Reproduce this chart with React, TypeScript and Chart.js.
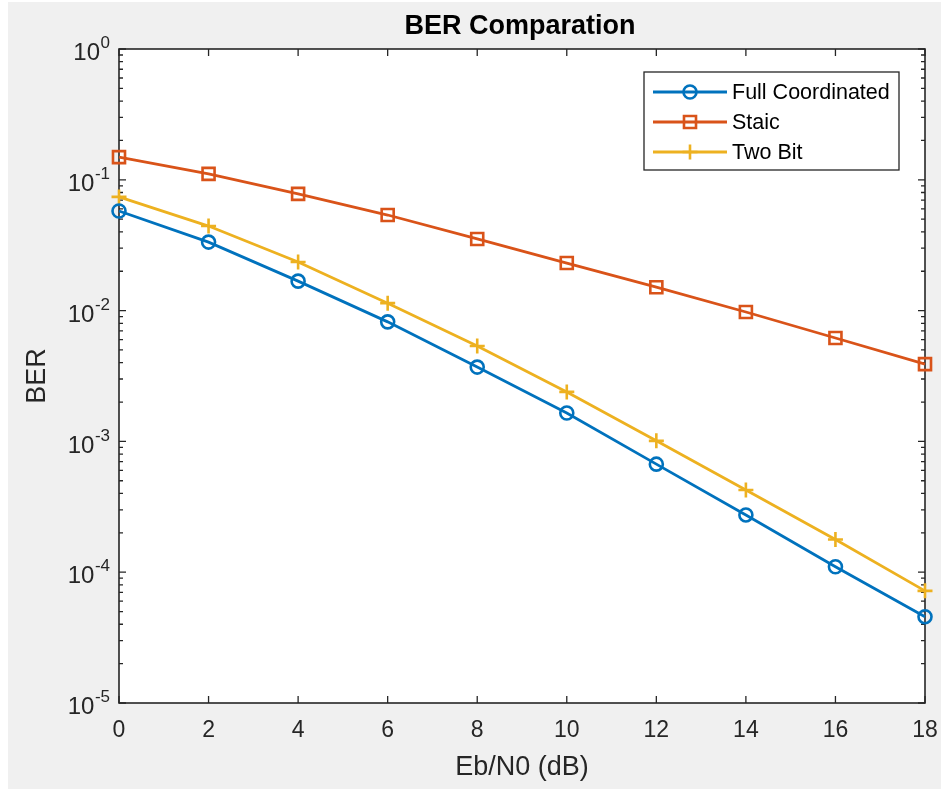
import React, { useEffect, useRef } from 'react';
import { Chart, registerables } from 'chart.js';
import { drawPoint } from 'chart.js/helpers';

Chart.register(...registerables);

// ---- data ----
const ebN0 = [0, 2, 4, 6, 8, 10, 12, 14, 16, 18];
const fullCoordinated = [0.0577, 0.0334, 0.0168, 0.0082, 0.0037, 0.00165, 0.00067, 0.000274, 0.00011, 0.0000457];
const staic = [0.149, 0.111, 0.078, 0.0538, 0.0353, 0.0231, 0.0151, 0.00976, 0.00617, 0.0039];
const twoBit = [0.074, 0.0443, 0.0235, 0.0114, 0.00536, 0.00239, 0.00101, 0.000425, 0.000178, 0.000072];
const seriesNames = ['Full Coordinated', 'Staic', 'Two Bit'];
const xTicks = [0, 2, 4, 6, 8, 10, 12, 14, 16, 18];
const yExponents = [0, -1, -2, -3, -4, -5];
const titleText = 'BER Comparation';
const xLabel = 'Eb/N0 (dB)';
const yLabel = 'BER';

const FAMILY = '"Liberation Sans", Arial, Helvetica, sans-serif';
const font = (size: number, bold = false) => `${bold ? 'bold ' : ''}${size}px ${FAMILY}`;
const AXIS = '#262626';

const matlabPlugin = {
  id: 'matlabLook',
  beforeDraw(chart: any) {
    const { ctx, chartArea: a, width, height } = chart;
    ctx.save();
    ctx.fillStyle = '#f0f0f0';
    ctx.fillRect(0, 0, width, height);
    ctx.fillStyle = '#ffffff';
    ctx.fillRect(a.left, a.top, a.right - a.left, a.bottom - a.top);
    ctx.restore();
  },
  beforeDatasetsDraw(chart: any) {
    const { ctx, chartArea: a, scales } = chart;
    const xs = scales.x;
    const ys = scales.y;
    ctx.save();
    ctx.strokeStyle = AXIS;
    ctx.lineWidth = 1.6;
    ctx.strokeRect(a.left, a.top, a.right - a.left, a.bottom - a.top);
    ctx.lineWidth = 1.3;
    ctx.beginPath();
    for (const v of xTicks) {
      const px = xs.getPixelForValue(v);
      ctx.moveTo(px, a.bottom);
      ctx.lineTo(px, a.bottom - 7);
      ctx.moveTo(px, a.top);
      ctx.lineTo(px, a.top + 7);
    }
    for (const e of yExponents) {
      for (let m = 1; m <= 9; m++) {
        const v = m * Math.pow(10, e);
        if (v > 1.0000001) continue;
        const py = ys.getPixelForValue(v);
        const len = m === 1 ? 7 : 4;
        ctx.moveTo(a.left, py);
        ctx.lineTo(a.left + len, py);
        ctx.moveTo(a.right, py);
        ctx.lineTo(a.right - len, py);
      }
    }
    ctx.stroke();
    ctx.restore();
  },
  afterDraw(chart: any) {
    const { ctx, chartArea: a, scales } = chart;
    const xs = scales.x;
    const ys = scales.y;
    ctx.save();
    // x tick labels
    ctx.fillStyle = AXIS;
    ctx.font = font(23);
    ctx.textAlign = 'center';
    ctx.textBaseline = 'middle';
    for (const v of xTicks) {
      ctx.fillText(String(v), xs.getPixelForValue(v), a.bottom + 28);
    }
    // y tick labels 10^e
    for (const e of yExponents) {
      const py = ys.getPixelForValue(Math.pow(10, e));
      const right = a.left - 9;
      ctx.font = font(17);
      const expStr = String(e);
      const we = ctx.measureText(expStr).width;
      ctx.textAlign = 'left';
      ctx.fillText(expStr, right - we, py - 5.5);
      ctx.font = font(24);
      ctx.textAlign = 'right';
      ctx.fillText('10', right - we - 0.5, py + 4.5);
    }
    // axis titles
    ctx.font = font(27);
    ctx.textAlign = 'center';
    ctx.textBaseline = 'middle';
    ctx.fillText(xLabel, (a.left + a.right) / 2, a.bottom + 65);
    ctx.save();
    ctx.translate(a.left - 81, (a.top + a.bottom) / 2);
    ctx.rotate(-Math.PI / 2);
    ctx.fillText(yLabel, 0, 0);
    ctx.restore();
    // title
    ctx.fillStyle = '#000000';
    ctx.font = font(27, true);
    ctx.fillText(titleText, (a.left + a.right) / 2 - 2, a.top - 22);

    // legend
    const bx = a.right - 281;
    const by = a.top + 23;
    const bw = 255;
    const bh = 98;
    ctx.fillStyle = '#ffffff';
    ctx.fillRect(bx, by, bw, bh);
    ctx.strokeStyle = AXIS;
    ctx.lineWidth = 1.3;
    ctx.strokeRect(bx, by, bw, bh);
    chart.data.datasets.forEach((ds: any, i: number) => {
      const ry = by + 20 + i * 30;
      ctx.strokeStyle = ds.borderColor;
      ctx.lineWidth = ds.borderWidth;
      ctx.beginPath();
      ctx.moveTo(bx + 9, ry);
      ctx.lineTo(bx + 83, ry);
      ctx.stroke();
      ctx.fillStyle = 'rgba(0,0,0,0)';
      ctx.strokeStyle = ds.borderColor;
      ctx.lineWidth = ds.pointBorderWidth;
      drawPoint(ctx, { pointStyle: ds.pointStyle, radius: ds.pointRadius, rotation: 0, borderWidth: ds.pointBorderWidth } as any, bx + 46, ry);
      ctx.fillStyle = '#000000';
      ctx.font = font(21.5);
      ctx.textAlign = 'left';
      ctx.textBaseline = 'middle';
      ctx.fillText(ds.label, bx + 88, ry + 1);
    });
    ctx.restore();
  },
};

export default function App() {
  const canvasRef = useRef<HTMLCanvasElement | null>(null);

  useEffect(() => {
    const canvas = canvasRef.current;
    if (!canvas) return;
    const mk = (label: string, values: number[], color: string, style: string, radius: number) => ({
      label,
      data: ebN0.map((x, i) => ({ x, y: values[i] })),
      borderColor: color,
      backgroundColor: color,
      borderWidth: 2.8,
      pointStyle: style,
      pointRadius: radius,
      pointHoverRadius: radius,
      pointBorderWidth: 2.6,
      pointBorderColor: color,
      pointBackgroundColor: 'rgba(0,0,0,0)',
      tension: 0,
      fill: false,
      clip: false as any,
    });
    const chart = new Chart(canvas, {
      type: 'line',
      data: {
        datasets: [
          mk(seriesNames[0], fullCoordinated, '#0072BD', 'circle', 6.5),
          mk(seriesNames[1], staic, '#D95319', 'rect', 8.5),
          mk(seriesNames[2], twoBit, '#EDB120', 'cross', 7.5),
        ] as any,
      },
      options: {
        responsive: false,
        animation: false,
        layout: { padding: { left: 111, top: 47, right: 16, bottom: 86 } },
        scales: {
          x: { type: 'linear', min: 0, max: 18, display: false },
          y: { type: 'logarithmic', min: 1e-5, max: 1, display: false },
        },
        plugins: {
          legend: { display: false },
          title: { display: false },
          tooltip: { enabled: false },
        },
        events: [],
      },
      plugins: [matlabPlugin],
    });
    return () => chart.destroy();
  }, []);

  return (
    <div style={{ position: 'absolute', left: 8, top: 2, width: 933, height: 787, background: '#f0f0f0' }}>
      <canvas ref={canvasRef} width={933} height={787} style={{ display: 'block' }} />
    </div>
  );
}
